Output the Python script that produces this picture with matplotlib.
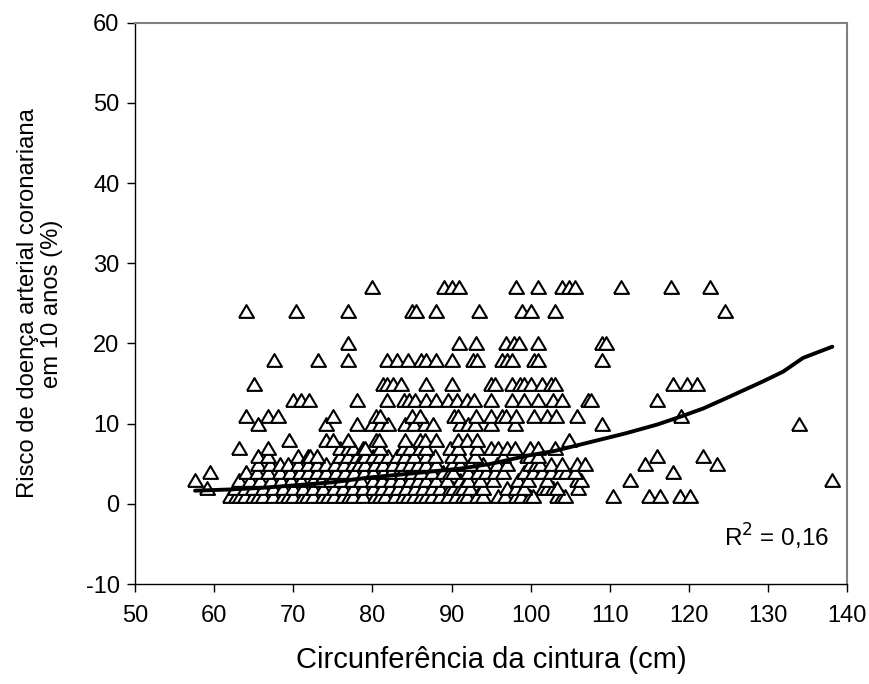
import matplotlib
matplotlib.use("Agg")
import matplotlib.pyplot as plt

plt.rcParams['font.family'] = ['Liberation Sans', 'DejaVu Sans']
plt.rcParams['axes.unicode_minus'] = False

# ---- data (waist circumference, cm) grouped by 10-year CHD risk level (%) ----
risk_levels = [1, 2, 3, 4, 5, 6, 7, 8, 10, 11, 13, 15, 18, 20, 24, 27]

waist_r1 = [62.0, 62.8, 63.3, 63.9, 64.9, 65.5, 66.2, 67.5, 68.7, 69.3, 70.0, 71.3, 71.8, 72.5,
            73.8, 74.4, 75.1, 76.3, 77.0, 77.6, 78.8, 80.3, 81.0, 81.6, 82.8, 83.9, 84.5, 85.2,
            86.2, 86.8, 87.5, 88.5, 89.6, 90.6, 91.5, 91.9, 93.2, 94.0, 95.9, 96.7, 98.2, 98.8,
            99.9, 100.3, 103.3, 103.9, 104.3, 110.4, 114.9, 116.3, 118.8, 120.1]
waist_r2 = [59.1, 62.6, 63.9, 64.9, 66.2, 67.5, 68.7, 70.0, 71.3, 72.5, 73.8, 75.1, 76.3, 77.6,
            78.8, 80.1, 81.2, 82.2, 83.3, 84.3, 85.4, 86.4, 87.5, 88.5, 89.8, 90.2, 91.1, 91.5,
            92.3, 93.8, 94.0, 97.0, 98.2, 99.1, 101.6, 102.0, 102.8, 103.3, 106.0]
waist_r3 = [57.6, 63.1, 64.5, 65.8, 67.2, 68.5, 69.7, 71.0, 72.5, 73.5, 74.8, 76.1, 77.4, 78.6,
            80.1, 81.2, 82.4, 83.5, 84.7, 85.8, 86.8, 88.1, 89.4, 91.1, 91.9, 92.1, 93.6, 95.3,
            98.4, 99.7, 102.0, 105.8, 106.4, 112.5, 138.0]
waist_r4 = [59.5, 64.1, 65.4, 66.8, 68.3, 69.6, 70.8, 71.9, 73.0, 74.2, 75.4, 76.5, 77.7, 78.9,
            80.1, 81.4, 82.4, 83.7, 85.0, 86.2, 87.5, 88.9, 89.8, 90.2, 92.1, 93.4, 94.4, 95.5,
            96.5, 99.1, 100.3, 101.4, 102.6, 103.7, 104.5, 105.6, 118.0]
waist_r5 = [65.6, 67.1, 68.3, 69.4, 70.6, 71.9, 73.0, 74.2, 75.3, 76.4, 77.5, 78.3, 79.1, 80.3,
            81.4, 82.6, 83.7, 84.7, 85.8, 86.8, 88.1, 90.0, 91.1, 92.3, 94.0, 95.7, 97.0, 99.9,
            100.7, 101.2, 102.6, 103.9, 105.8, 106.8, 114.4, 123.5]
waist_r6 = [65.5, 66.8, 70.6, 71.9, 72.1, 73.0, 75.9, 76.9, 78.0, 78.8, 79.1, 80.1, 81.0, 82.0,
            83.1, 84.1, 85.2, 86.8, 87.9, 90.0, 91.1, 93.0, 96.5, 99.5, 99.9, 100.9, 115.9, 121.8]
waist_r7 = [63.1, 66.8, 75.9, 76.9, 77.5, 78.8, 79.1, 81.0, 83.9, 84.7, 86.0, 86.8, 89.8, 90.8,
            93.2, 95.0, 95.9, 97.0, 98.0, 99.9, 100.9, 103.1]
waist_r8 = [69.5, 74.1, 75.0, 76.9, 80.4, 80.9, 84.1, 86.0, 86.6, 88.1, 90.8, 91.9, 93.2, 104.9]
waist_r10 = [65.5, 74.1, 78.1, 79.9, 81.0, 82.0, 84.1, 85.2, 86.6, 87.6, 91.1, 92.1, 93.0, 95.0,
             98.0, 109.0, 133.9]
waist_r11 = [64.0, 66.8, 68.1, 75.0, 80.4, 81.0, 85.0, 86.0, 90.3, 90.8, 93.1, 95.0, 96.4, 96.9,
             98.1, 100.4, 102.0, 103.2, 105.9, 119.0]
waist_r13 = [70.0, 71.0, 72.0, 78.0, 81.9, 84.0, 84.6, 85.4, 86.8, 88.1, 89.5, 90.7, 91.9, 92.8,
             95.0, 97.6, 99.2, 100.9, 102.8, 103.9, 107.3, 107.6, 115.9]
waist_r15 = [65.0, 81.4, 81.9, 82.6, 83.6, 86.8, 90.0, 95.0, 95.5, 97.6, 98.6, 99.1, 100.1, 101.4,
             102.6, 103.1, 118.0, 119.8, 121.0]
waist_r18 = [67.6, 73.1, 76.9, 81.9, 83.1, 84.5, 86.1, 86.8, 88.1, 90.0, 92.7, 93.2, 96.4, 97.0,
             97.6, 100.4, 100.9, 109.0]
waist_r20 = [76.9, 90.9, 93.1, 96.9, 97.9, 98.5, 100.9, 109.0, 109.5]
waist_r24 = [64.0, 70.4, 76.9, 85.0, 85.5, 88.1, 93.5, 98.9, 100.0, 103.1, 124.5]
waist_r27 = [80.0, 89.0, 90.0, 90.9, 98.1, 100.9, 104.0, 104.9, 105.6, 111.4, 117.7, 122.6]

waist_groups = [waist_r1, waist_r2, waist_r3, waist_r4, waist_r5, waist_r6, waist_r7, waist_r8,
                waist_r10, waist_r11, waist_r13, waist_r15, waist_r18, waist_r20, waist_r24,
                waist_r27]

# fitted trend curve
trend_x = [57.6, 62.0, 66.0, 70.0, 75.0, 79.7, 85.0, 91.1, 95.0, 99.5, 103.0, 107.5, 112.0,
           116.0, 119.0, 121.8, 125.2, 129.4, 131.9, 134.4, 138.1]
trend_y = [1.65, 1.8, 2.0, 2.3, 2.7, 3.3, 3.8, 4.4, 5.0, 6.0, 6.6, 7.7, 8.8, 9.9, 10.9, 11.9,
           13.4, 15.3, 16.5, 18.2, 19.6]

x_ticks = [50, 60, 70, 80, 90, 100, 110, 120, 130, 140]
y_ticks = [-10, 0, 10, 20, 30, 40, 50, 60]

# ---- figure ----
fig = plt.figure(figsize=(8.7, 6.84), dpi=100)
ax = fig.add_axes([0.155, 0.146, 0.819, 0.821])

xs, ys = [], []
for lvl, grp in zip(risk_levels, waist_groups):
    xs.extend(grp)
    ys.extend([lvl] * len(grp))

tri = [(-1.0, -0.85), (1.0, -0.85), (0.0, 0.85), (-1.0, -0.85)]
ax.plot(xs, ys, linestyle='none', marker=tri, markersize=10.8,
        markerfacecolor='white', markeredgecolor='black', markeredgewidth=1.5)
ax.plot(trend_x, trend_y, color='black', linewidth=2.8, solid_capstyle='round')

ax.set_xlim(50, 140)
ax.set_ylim(-10, 60)
ax.set_xticks(x_ticks)
ax.set_yticks(y_ticks)
ax.tick_params(axis='both', direction='out', length=6, width=1, labelsize=17, colors='black')
ax.tick_params(axis='x', pad=9)
ax.tick_params(axis='y', pad=5)

for side in ['top', 'right']:
    ax.spines[side].set_color('#808080')
    ax.spines[side].set_linewidth(1.5)
for side in ['left', 'bottom']:
    ax.spines[side].set_color('black')
    ax.spines[side].set_linewidth(1.0)

ax.set_xlabel('Circunferência da cintura (cm)', fontsize=21, labelpad=14)
ax.set_ylabel('Risco de doença arterial coronariana\nem 10 anos (%)', fontsize=17.2,
              labelpad=16, linespacing=1.15)

ax.text(137.7, -4.1, 'R$^2$ = 0,16', fontsize=17.5, ha='right', va='center')

fig.savefig('out.png', dpi=100)
